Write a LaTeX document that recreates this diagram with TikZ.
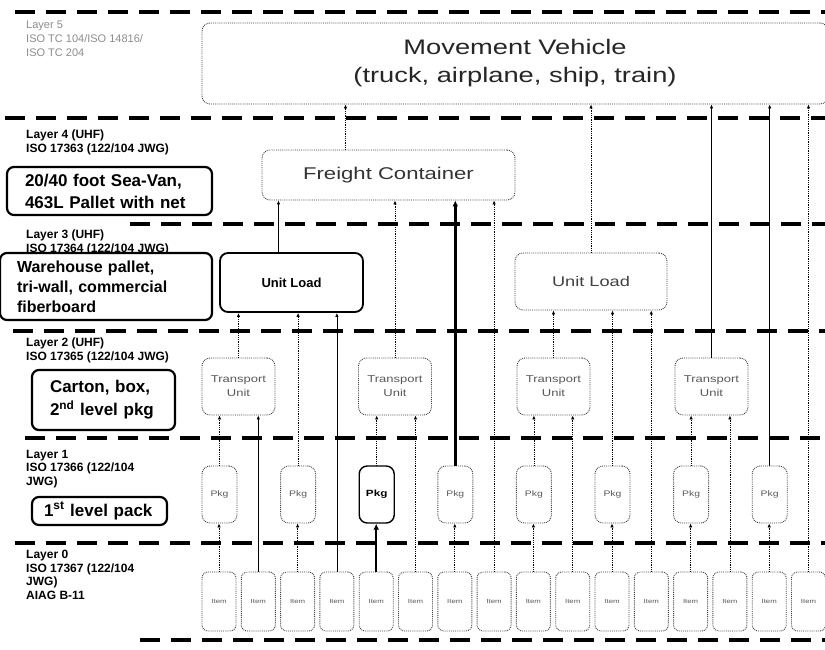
\documentclass[tikz,border=0pt]{standalone}
\usepackage{fontspec}
\setmainfont{Liberation Sans}
\newfontfamily\widesf[FakeStretch=1.3]{Liberation Sans}
\usetikzlibrary{arrows.meta}

\tikzset{
  sep/.style={line width=3.2pt, dash pattern=on 20pt off 11pt},
  lvltext/.style={anchor=north west, inner sep=0pt, align=left,
    font=\bfseries\fontsize{12}{13.5}\selectfont},
  lvlbox/.style={draw, line width=2.2pt, rounded corners=7pt, fill=white,
    align=left, inner ysep=2pt, font=\bfseries\fontsize{17}{22}\selectfont},
  unit/.style={draw=black!75, densely dotted, line width=0.9pt,
    rounded corners=8pt, fill=white, align=center, text=black!65},
  link/.style={densely dotted, line width=0.8pt, -{Latex[length=4pt,width=3.5pt]}},
  sollink/.style={line width=0.8pt, -{Latex[length=4pt,width=3.5pt]}},
  heavylink/.style={line width=2.4pt, -{Latex[length=6pt,width=6pt]}},
}

\begin{document}
\begin{tikzpicture}[x=1pt,y=-1pt]
  \useasboundingbox (0,0) rectangle (825,650);
  % Layer separators
  \draw[sep] (15,12) -- (825,12);
  \draw[sep] (5,118) -- (825,118);
  \draw[sep] (130,224) -- (825,224);
  \draw[sep] (13,331) -- (825,331);
  \draw[sep] (25,438) -- (825,438);
  \draw[sep] (15,543) -- (825,543);
  \draw[sep] (140,640) -- (825,640);

  % Layer labels
  \node[lvltext, text=black!45, font=\fontsize{11}{14}\selectfont] (lay5) at (26,21)
    {Layer 5\\ISO TC 104/ISO 14816/\\ISO TC 204};
  \node[lvltext] (lay4) at (26,130) {Layer 4 (UHF)\\ISO 17363 (122/104 JWG)};
  \node[lvltext] (lay3) at (26,230) {Layer 3 (UHF)\\ISO 17364 (122/104 JWG)};
  \node[lvltext] (lay2) at (26,338) {Layer 2 (UHF)\\ISO 17365 (122/104 JWG)};
  \node[lvltext] (lay1) at (26,450) {Layer 1\\ISO 17366 (122/104\\JWG)};
  \node[lvltext] (lay0) at (26,550) {Layer 0\\ISO 17367 (122/104\\JWG)\\AIAG B-11};

  % Examples per layer
  \node[lvlbox, inner xsep=18pt, text width=169pt, minimum height=48pt] (seavan) at (109.5,191)
    {20/40 foot Sea-Van,\\463L Pallet with net};
  \node[lvlbox, inner xsep=17pt, text width=178pt, minimum height=67pt,
    font=\bfseries\fontsize{16}{20}\selectfont] (pallet) at (106,286.5)
    {Warehouse pallet,\\tri-wall, commercial\\fiberboard};
  \node[lvlbox, inner xsep=18pt, text width=107pt, minimum height=60pt,
    font=\bfseries\fontsize{17}{23}\selectfont] (carton) at (103.5,400)
    {Carton, box,\\2\textsuperscript{nd} level pkg};
  \node[lvlbox, inner xsep=12pt, text width=111pt, minimum height=28pt] (pack) at (99.5,511)
    {1\textsuperscript{st} level pack};

  % Units
  \node[unit, minimum width=626pt, minimum height=81pt, text=black!85,
    font=\widesf\fontsize{21}{28}\selectfont] (mv) at (515,63.5)
    {Movement Vehicle\\(truck, airplane, ship, train)};
  \node[unit, minimum width=253pt, minimum height=50pt, text=black!80,
    font=\widesf\fontsize{17}{20}\selectfont] (fc) at (388.5,175) {Freight Container};
  \node[unit, solid, draw=black, line width=1.8pt, text=black, minimum width=143pt,
    minimum height=59pt, font=\bfseries\fontsize{13}{16}\selectfont] (ul1) at (291.5,282.5) {Unit Load};
  \node[unit, minimum width=152pt, minimum height=57pt, text=black!75,
    font=\widesf\fontsize{14}{17}\selectfont] (ul2) at (591,281.5) {Unit Load};
  \foreach \i/\x in {1/238.5,2/395,3/553.5,4/711.5}
    \node[unit, minimum width=73pt, minimum height=57pt,
      font=\widesf\fontsize{10}{14}\selectfont] (tu\i) at (\x,386.5) {Transport\\Unit};
  \foreach \j in {0,1,3,4,5,6,7}
    \node[unit, minimum width=35pt, minimum height=57pt,
      font=\widesf\fontsize{8}{10}\selectfont] (pkg\j) at ({219.5+78.6*\j},494.5) {Pkg};
  \node[unit, solid, draw=black, line width=1.4pt, text=black, minimum width=35pt,
    minimum height=57pt, font=\bfseries\widesf\fontsize{9}{10}\selectfont] (pkg2) at (376.7,494.5) {Pkg};
  \foreach \i in {0,...,15}
    \node[unit, rounded corners=6pt, minimum width=34pt, minimum height=59pt,
      font=\widesf\fontsize{6}{7}\selectfont] (item\i) at ({219+39.3*\i},601.5) {Item};

  % Items up
  \foreach \i/\j in {0/0,2/1,6/3,8/4,10/5,12/6,14/7}
    \draw[link] (item\i.north) -- (item\i.north |- pkg\j.south);
  \draw[heavylink] (item4.north) -- (item4.north |- pkg2.south);
  \foreach \i/\t in {5/tu2,9/tu3,13/tu4,11/ul2,7/fc,15/mv}
    \draw[link] (item\i.north) -- (item\i.north |- \t.south);
  \foreach \i/\t in {1/tu1,3/ul1}
    \draw[sollink] (item\i.north) -- (item\i.north |- \t.south);
  % Packages up
  \foreach \j/\t in {0/tu1,2/tu2,4/tu3,6/tu4,1/ul1,5/ul2}
    \draw[link] (pkg\j.north) -- (pkg\j.north |- \t.south);
  \draw[sollink] (pkg7.north) -- (pkg7.north |- mv.south);
  \draw[heavylink] (pkg3.north) -- (pkg3.north |- fc.south);
  % Transport units up
  \draw[link] (tu1.north) -- (tu1.north |- ul1.south);
  \draw[link] (tu3.north) -- (tu3.north |- ul2.south);
  \draw[link] (tu2.north) -- (tu2.north |- fc.south);
  \draw[sollink] (tu4.north) -- (tu4.north |- mv.south);
  % Unit loads and container up
  \draw[sollink] ([xshift=-13pt]ul1.north) -- ([xshift=-13pt]ul1.north |- fc.south);
  \draw[link] (ul2.north) -- (ul2.north |- mv.south);
  \draw[link] ([xshift=-43pt]fc.north) -- ([xshift=-43pt]fc.north |- mv.south);
\end{tikzpicture}
\end{document}
